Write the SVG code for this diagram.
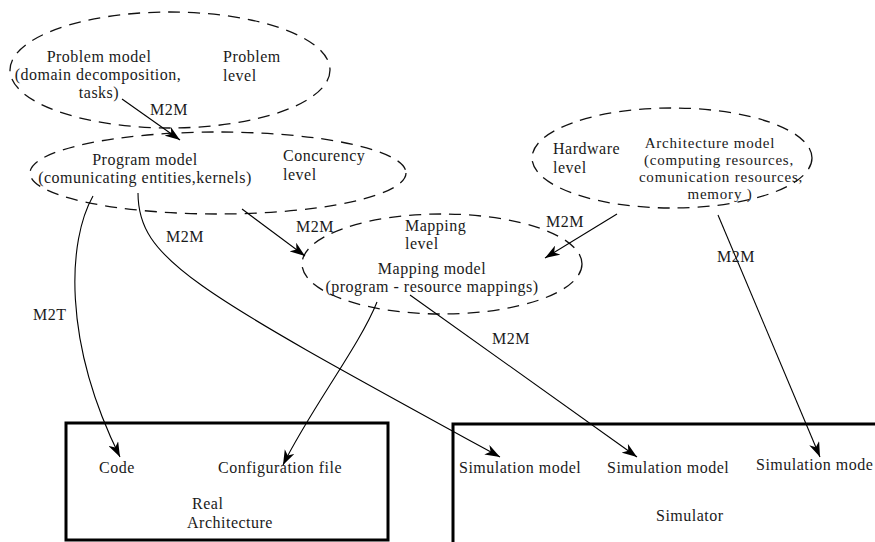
<svg xmlns="http://www.w3.org/2000/svg" width="875" height="542" viewBox="0 0 875 542">
<style>
text{font-family:"Liberation Serif","Times New Roman",serif;font-size:16px;letter-spacing:0.5px;fill:#1a1a1a}
.m{text-anchor:middle}
.hw{font-size:15px;letter-spacing:0.8px}
.ell{fill:none;stroke:#111;stroke-width:1.3;stroke-dasharray:12 8}
.box{fill:none;stroke:#000;stroke-width:3}
.c{fill:none;stroke:#000;stroke-width:1.1;marker-end:url(#ah)}
</style>
<defs>
<marker id="ah" viewBox="0 0 14 10" refX="14" refY="5" markerUnits="userSpaceOnUse" markerWidth="15" markerHeight="11" orient="auto">
<path d="M0,0 L14,5 L0,10 L4,5 z" fill="#000"/>
</marker>
</defs>
<rect width="875" height="542" fill="#fff"/>
<g id="problem">
<ellipse class="ell" cx="170" cy="70" rx="160" ry="58"/>
<text class="m" x="99" y="62">Problem model</text>
<text class="m" x="98" y="80">(domain decomposition,</text>
<text class="m" x="99" y="98">tasks)</text>
<text x="223" y="62">Problem</text>
<text x="223" y="81">level</text>
</g>
<g id="program">
<ellipse class="ell" cx="218" cy="173" rx="188" ry="41"/>
<text class="m" x="145" y="165">Program model</text>
<text class="m" x="145" y="183">(comunicating entities,kernels)</text>
<text x="283" y="161">Concurency</text>
<text x="283" y="180">level</text>
</g>
<g id="hardware">
<ellipse class="ell" cx="672" cy="158" rx="140" ry="50"/>
<text x="553" y="154">Hardware</text>
<text x="553" y="173">level</text>
<text class="m hw" x="710" y="148">Architecture model</text>
<text class="m hw" x="719" y="165">(computing resources,</text>
<text class="m hw" x="721" y="182">comunication resources,</text>
<text class="m hw" x="720" y="199">memory )</text>
</g>
<g id="mapping">
<ellipse class="ell" cx="442" cy="264" rx="140" ry="50"/>
<text x="405" y="231">Mapping</text>
<text x="405" y="249">level</text>
<text class="m" x="432" y="274">Mapping model</text>
<text class="m" x="432" y="292">(program - resource mappings)</text>
</g>
<g id="real-architecture">
<rect class="box" x="66" y="423" width="322" height="117"/>
<text x="99" y="473">Code</text>
<text x="218" y="473">Configuration file</text>
<text x="192" y="509">Real</text>
<text x="187" y="528">Architecture</text>
</g>
<g id="simulator">
<path class="box" d="M453,546 L453,424 L880,424"/>
<text x="459" y="473">Simulation model</text>
<text x="607" y="473">Simulation model</text>
<text x="756" y="470">Simulation mode</text>
<text x="656" y="521">Simulator</text>
</g>
<g id="connectors">
<path class="c" d="M122,99 L180,140"/>
<path class="c" d="M242,209 L305,256"/>
<path class="c" d="M617,214 L545,258"/>
<path class="c" d="M93,196 C68,240 62,340 120,457"/>
<path class="c" d="M138,193 C138,260 195,290 500,457"/>
<path class="c" d="M377,302 C360,345 310,410 283,465"/>
<path class="c" d="M410,295 L637,457"/>
<path class="c" d="M718,215 L820,457"/>
<text x="150" y="115">M2M</text>
<text x="296" y="232">M2M</text>
<text x="166" y="242">M2M</text>
<text x="546" y="227">M2M</text>
<text x="717" y="262">M2M</text>
<text x="33" y="320">M2T</text>
<text x="492" y="344">M2M</text>
</g>
</svg>
